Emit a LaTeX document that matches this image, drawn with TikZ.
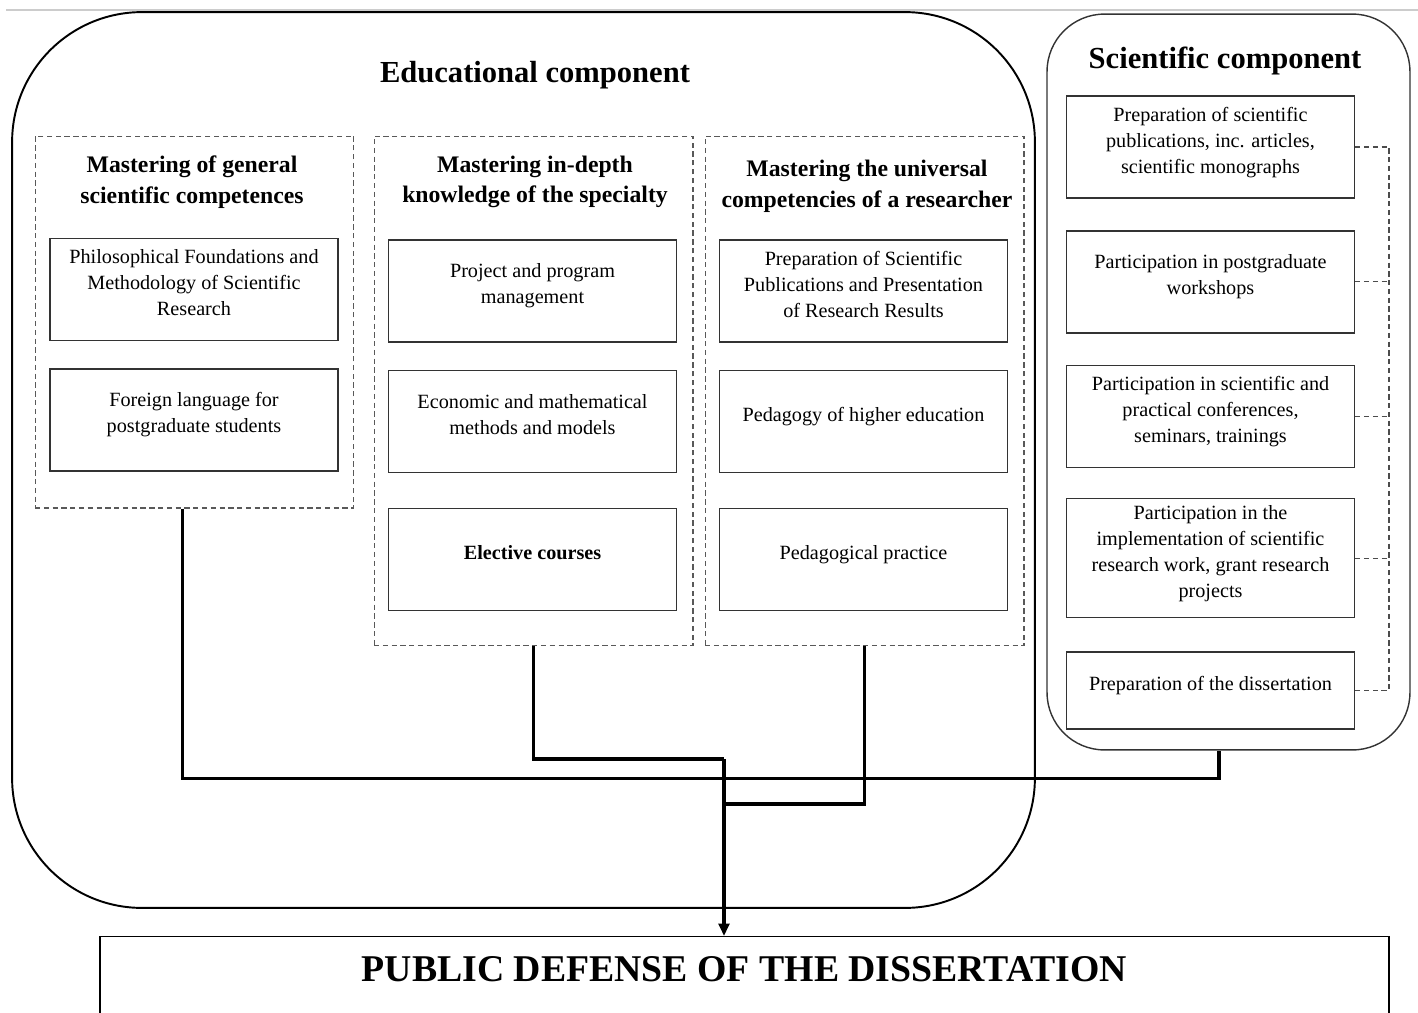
\documentclass[tikz,border=0pt]{standalone}
\usepackage{fontspec}
\setmainfont{Liberation Serif}
\usetikzlibrary{arrows.meta, positioning, calc}
\tikzset{
    edubox/.style={
        rectangle,
        draw=black,
        line width=1.1pt,
        rounded corners=2.6cm,
        minimum width=20.46cm,
        minimum height=17.92cm
    },
    scibox/.style={
        rectangle,
        draw=black!80,
        line width=0.8pt,
        rounded corners=1.15cm,
        minimum width=7.26cm,
        minimum height=14.72cm
    },
    colbox/.style={
        rectangle,
        draw=black!65,
        dash pattern=on 3pt off 2pt,
        line width=0.6pt,
        minimum width=6.38cm
    },
    block/.style={
        rectangle,
        draw=black!80,
        line width=0.8pt,
        fill=white,
        minimum width=5.76cm,
        minimum height=2.04cm,
        align=center,
        text depth=8pt,
        font=\fontsize{11.5}{14.8}\selectfont
    },
    heading/.style={
        align=center,
        font=\fontsize{13.5}{17.5}\selectfont\bfseries
    },
    maintitle/.style={
        font=\fontsize{17.4}{21}\selectfont\bfseries
    },
    result/.style={
        rectangle,
        draw=black,
        line width=0.8pt,
        minimum width=25.78cm,
        inner sep=0pt,
        text height=0.9cm,
        text depth=1.2cm,
        font=\fontsize{21.5}{25}\selectfont\bfseries
    },
    flow/.style={
        line width=1.8pt
    },
    arrow/.style={
        line width=1.8pt,
        -{Triangle[width=6pt,length=7pt]}
    },
    link/.style={
        draw=black!70,
        dash pattern=on 3pt off 2pt,
        line width=0.6pt
    }
}

\begin{document}
\begin{tikzpicture}[x=0.02cm, y=-0.02cm]

    \clip (0,0) rectangle (1418,1012);

    % Screen edge
    \draw[black!20, line width=1pt] (6,10) -- (1418,10);

    % Educational component
    \node[edubox] (edu) at (523.5,460) {};
    \node[maintitle] (edutitle) at (535,75) {Educational component};

    % Column 1
    \node[colbox, minimum height=7.44cm] (col1) at (194.5,322) {};
    \node[heading] (h1) at (192,182) {Mastering of general\\scientific competences};
    \node[block] (a1) at (194,289.5) {Philosophical Foundations and\\Methodology of Scientific\\Research};
    \node[block, below=0.54cm of a1] (a2) {Foreign language for\\postgraduate students};

    % Column 2
    \node[colbox, minimum height=10.2cm] (col2) at (533.5,391) {};
    \node[heading] (h2) at (535,182) {Mastering in-depth\\knowledge of the specialty};
    \node[block] (b1) at (532.5,291) {Project and program\\management};
    \node[block, below=0.54cm of b1] (b2) {Economic and mathematical\\methods and models};
    \node[block, below=0.7cm of b2] (b3) {\textbf{Elective courses}};

    % Column 3
    \node[colbox, minimum height=10.2cm] (col3) at (864.5,391) {};
    \node[heading] (h3) at (867,186) {Mastering the universal\\competencies of a researcher};
    \node[block] (c1) at (863.5,291) {Preparation of Scientific\\Publications and Presentation\\of Research Results};
    \node[block, below=0.54cm of c1] (c2) {Pedagogy of higher education};
    \node[block, below=0.7cm of c2] (c3) {Pedagogical practice};

    % Scientific component
    \node[scibox] (sci) at (1228.5,382) {};
    \node[maintitle] (scititle) at (1225,61) {Scientific component};
    \node[block] (s1) at (1210.5,147) {Preparation of scientific\\publications, inc. articles,\\scientific monographs};
    \node[block, below=0.63cm of s1] (s2) {Participation in postgraduate\\workshops};
    \node[block, below=0.62cm of s2] (s3) {Participation in scientific and\\practical conferences,\\seminars, trainings};
    \node[block, below=0.6cm of s3, minimum height=2.38cm] (s4) {Participation in the\\implementation of scientific\\research work, grant research\\projects};
    \node[block, below=0.66cm of s4, minimum height=1.54cm] (s5) {Preparation of the dissertation};

    % Dashed bracket
    \coordinate (brk) at (1389,0);
    \draw[link] (s1.east) -- (s1.east -| brk) -- (s5.east -| brk) -- (s5.east);
    \foreach \n in {s2,s3,s4}
        \draw[link] (\n.east) -- (\n.east -| brk);

    % Public defense
    \node[result, anchor=north] (defense) at (744.5,936) {PUBLIC DEFENSE OF THE DISSERTATION};

    % Connectors
    \coordinate (merge) at (724,759);
    \draw[flow] ($(col1.south)+(-12,0)$) -- ++(0,270) -| ($(sci.south)+(-9.5,0)$);
    \draw[flow] (col2.south) |- (merge);
    \draw[flow] (col3.south) |- ($(merge)+(0,45)$);
    \draw[arrow] (merge) -- (merge |- defense.north);

\end{tikzpicture}
\end{document}
